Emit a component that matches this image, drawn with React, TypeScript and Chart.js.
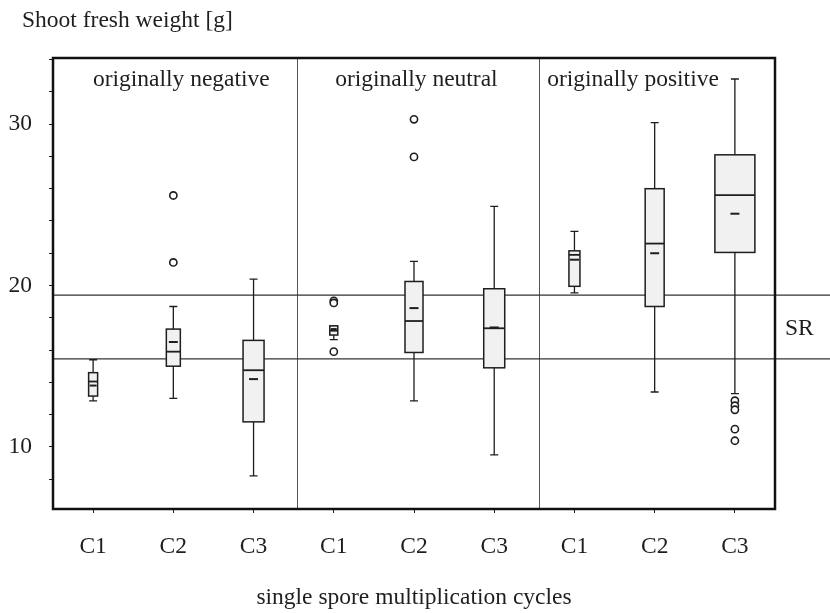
import React, { useEffect, useRef } from 'react';
import { Chart, registerables } from 'chart.js';

Chart.register(...registerables);

// ---------- data ----------
const groupLabels = ['originally negative', 'originally neutral', 'originally positive'];
const cycleLabels = ['C1', 'C2', 'C3', 'C1', 'C2', 'C3', 'C1', 'C2', 'C3'];
const whiskerLow = [12.85, 13.0, 8.2, 16.65, 12.85, 9.5, 19.55, 13.4, 13.3];
const q1 = [13.15, 15.0, 11.55, 16.93, 15.85, 14.9, 19.95, 18.7, 22.05];
const median = [14.05, 15.9, 14.75, 17.2, 17.8, 17.35, 21.9, 22.6, 25.6];
const mean = [13.8, 16.5, 14.2, 17.3, 18.6, 17.4, 21.6, 22.0, 24.45];
const q3 = [14.6, 17.3, 16.6, 17.5, 20.25, 19.8, 22.15, 26.0, 28.1];
const whiskerHigh = [15.4, 18.7, 20.4, 17.5, 21.5, 24.9, 23.35, 30.1, 32.8];
const outlierIndex = [1, 1, 3, 3, 3, 4, 4, 8, 8, 8, 8, 8];
const outlierValue = [25.58, 21.43, 19.05, 18.92, 15.9, 30.3, 27.97, 12.86, 12.55, 12.3, 11.1, 10.38];
const srBounds = [15.45, 19.4];
const yTickLabels = [10, 20, 30];
const yTitle = 'Shoot fresh weight [g]';
const xTitle = 'single spore multiplication cycles';
const srLabel = 'SR';

// ---------- layout / style constants ----------
const BOX_WIDTHS = [9, 14, 21, 8, 18, 21, 11, 19, 40];
const PANEL_LABEL_AT = [1.1, 4.03, 6.73];
const PANEL_DIVIDERS = [2.54, 5.56];
const FONT = '"Liberation Serif", "Times New Roman", serif';
const FONT_SIZE = 23.5;
const INK = '#1e1e1e';

export default function App() {
  const ref = useRef<HTMLCanvasElement>(null);

  useEffect(() => {
    document.body.style.margin = '0';
    const canvas = ref.current;
    if (!canvas) return;

    const drawPlugin = {
      id: 'boxplotDraw',
      beforeDatasetsDraw(chart: any) {
        const { ctx, chartArea, scales } = chart;
        const x = scales.x;
        const y = scales.y;
        ctx.save();
        // panel dividers
        ctx.strokeStyle = '#555';
        ctx.lineWidth = 1;
        PANEL_DIVIDERS.forEach((d) => {
          const px = Math.round(x.getPixelForValue(d)) + 0.5;
          ctx.beginPath();
          ctx.moveTo(px, chartArea.top);
          ctx.lineTo(px, chartArea.bottom);
          ctx.stroke();
        });
        // SR lines
        ctx.strokeStyle = '#333';
        ctx.lineWidth = 1.2;
        srBounds.forEach((v) => {
          const py = y.getPixelForValue(v);
          ctx.beginPath();
          ctx.moveTo(chartArea.left, py);
          ctx.lineTo(chart.width, py);
          ctx.stroke();
        });
        // boxes
        for (let i = 0; i < cycleLabels.length; i++) {
          const cx = x.getPixelForValue(i);
          const w = BOX_WIDTHS[i];
          const yLo = y.getPixelForValue(whiskerLow[i]);
          const yHi = y.getPixelForValue(whiskerHigh[i]);
          const yQ1 = y.getPixelForValue(q1[i]);
          const yQ3 = y.getPixelForValue(q3[i]);
          const yMed = y.getPixelForValue(median[i]);
          const yMean = y.getPixelForValue(mean[i]);
          ctx.strokeStyle = INK;
          ctx.lineWidth = 1.3;
          ctx.beginPath();
          ctx.moveTo(cx, yQ3);
          ctx.lineTo(cx, yHi);
          ctx.moveTo(cx, yQ1);
          ctx.lineTo(cx, yLo);
          ctx.moveTo(cx - 4, yHi);
          ctx.lineTo(cx + 4, yHi);
          ctx.moveTo(cx - 4, yLo);
          ctx.lineTo(cx + 4, yLo);
          ctx.stroke();
          ctx.fillStyle = '#f1f1f1';
          ctx.fillRect(cx - w / 2, yQ3, w, yQ1 - yQ3);
          ctx.lineWidth = 1.5;
          ctx.strokeRect(cx - w / 2, yQ3, w, yQ1 - yQ3);
          ctx.lineWidth = 1.8;
          ctx.beginPath();
          ctx.moveTo(cx - w / 2, yMed);
          ctx.lineTo(cx + w / 2, yMed);
          ctx.stroke();
          const dw = Math.min(w - 2, 9);
          ctx.lineWidth = 2;
          ctx.beginPath();
          ctx.moveTo(cx - dw / 2, yMean);
          ctx.lineTo(cx + dw / 2, yMean);
          ctx.stroke();
        }
        // frame
        ctx.strokeStyle = '#111';
        ctx.lineWidth = 2.5;
        ctx.strokeRect(chartArea.left, chartArea.top, chartArea.right - chartArea.left, chartArea.bottom - chartArea.top);
        ctx.restore();
      },
      afterDraw(chart: any) {
        const { ctx, chartArea, scales } = chart;
        const x = scales.x;
        const y = scales.y;
        ctx.save();
        ctx.fillStyle = INK;
        ctx.font = `${FONT_SIZE}px ${FONT}`;
        ctx.textBaseline = 'alphabetic';
        ctx.textAlign = 'left';
        ctx.fillText(yTitle, 22, 27);
        ctx.textAlign = 'center';
        groupLabels.forEach((g, i) => {
          ctx.fillText(g, x.getPixelForValue(PANEL_LABEL_AT[i]), chartArea.top + 28);
        });
        ctx.textAlign = 'left';
        const srY = (y.getPixelForValue(srBounds[0]) + y.getPixelForValue(srBounds[1])) / 2;
        ctx.textBaseline = 'middle';
        ctx.fillText(srLabel, chartArea.right + 10, srY + 2);
        ctx.restore();
      },
    };

    const chart = new Chart(canvas, {
      type: 'line',
      data: {
        datasets: [
          {
            data: outlierIndex.map((xi, i) => ({ x: xi, y: outlierValue[i] })),
            showLine: false,
            pointStyle: 'circle',
            pointRadius: 3.6,
            pointBorderWidth: 1.6,
            pointBorderColor: INK,
            pointBackgroundColor: '#fff',
          },
        ],
      },
      options: {
        responsive: false,
        animation: false,
        events: [],
        layout: { padding: { left: 0, top: 58, right: 55, bottom: 0 } },
        plugins: { legend: { display: false }, tooltip: { enabled: false } },
        scales: {
          x: {
            type: 'linear',
            min: -0.5,
            max: 8.5,
            afterBuildTicks: (s: any) => {
              s.ticks = cycleLabels.map((_, i) => ({ value: i }));
            },
            afterFit: (s: any) => {
              s.height = 104;
            },
            border: { display: false },
            grid: { display: true, drawOnChartArea: false, drawTicks: true, tickLength: 4, color: INK },
            ticks: {
              autoSkip: false,
              maxRotation: 0,
              padding: 20,
              color: INK,
              font: { family: FONT, size: FONT_SIZE },
              callback: (v: any) => cycleLabels[Math.round(Number(v))] ?? '',
            },
            title: {
              display: true,
              text: xTitle,
              color: INK,
              font: { family: FONT, size: FONT_SIZE },
              padding: { top: 0, bottom: 1 },
            },
          },
          y: {
            type: 'linear',
            min: 6.15,
            max: 34.1,
            afterBuildTicks: (s: any) => {
              const t: any[] = [];
              for (let v = 8; v <= 34; v += 2) t.push({ value: v });
              s.ticks = t;
            },
            afterFit: (s: any) => {
              s.width = 53;
            },
            border: { display: false },
            grid: { display: true, drawOnChartArea: false, drawTicks: true, tickLength: 4, color: INK },
            ticks: {
              padding: 17,
              color: INK,
              font: { family: FONT, size: FONT_SIZE },
              callback: (v: any) => (yTickLabels.includes(Number(v)) ? String(v) : ''),
            },
          },
        },
      },
      plugins: [drawPlugin],
    } as any);

    return () => chart.destroy();
  }, []);

  return (
    <div style={{ position: 'fixed', left: 0, top: 0, width: 830, height: 613, background: '#fff' }}>
      <canvas ref={ref} width={830} height={613} style={{ width: 830, height: 613, display: 'block' }} />
    </div>
  );
}
